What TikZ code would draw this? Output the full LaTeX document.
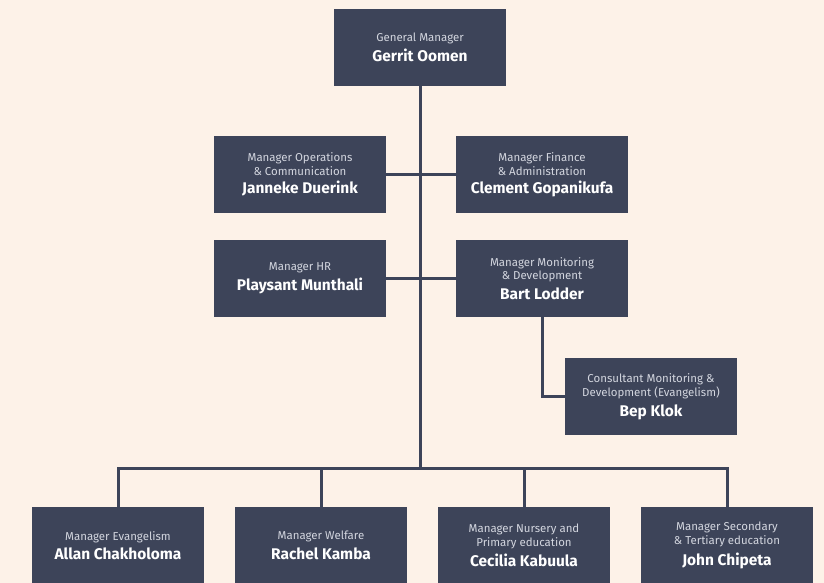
\documentclass[tikz,border=0pt]{standalone}
\usepackage{fontspec}
\setmainfont{Fira Sans}
\usetikzlibrary{calc}
\definecolor{paper}{HTML}{FDF2E8}
\definecolor{slate}{HTML}{3D4459}
\definecolor{muted}{HTML}{D3D6DF}
\def\who#1#2{#1\\[4.5pt]\textcolor{white}{\fontsize{15.5}{17}\selectfont\bfseries #2}}

\begin{document}
\begin{tikzpicture}[x=1bp, y=-1bp,
		post/.style={fill=slate, text=muted, minimum width=172bp, minimum height=77bp, inner sep=0pt, align=center, font=\fontsize{11.5}{14}\selectfont},
		link/.style={draw=slate, line width=3bp}]
		%%%%% START %%%%%
		
		\fill[paper] (0, 0) rectangle (824, 583);
		\useasboundingbox (0, 0) rectangle (824, 583);
		
		\node[post] (gm) at (420, 47.5) {\who{General Manager}{Gerrit Oomen}};
		
		\node[post] (ops) at (300, 174.5) {\who{Manager Operations\\\& Communication}{Janneke Duerink}};
		\node[post] (fin) at (542, 174.5) {\who{Manager Finance\\\& Administration}{Clement Gopanikufa}};
		\node[post] (hr) at (300, 278.5) {\who{Manager HR}{Playsant Munthali}};
		\node[post] (mon) at (542, 278.5) {\who{Manager Monitoring\\\& Development}{Bart Lodder}};
		\node[post] (cons) at (651, 396.5) {\who{Consultant Monitoring \&\\Development (Evangelism)}{Bep Klok}};
		
		\node[post] (evan) at (118, 545.5) {\who{Manager Evangelism}{Allan Chakholoma}};
		\node[post] (welf) at (321, 545.5) {\who{Manager Welfare}{Rachel Kamba}};
		\node[post] (nurs) at (524, 545.5) {\who{Manager Nursery and\\Primary education}{Cecilia Kabuula}};
		\node[post] (sec) at (727, 545.5) {\who{Manager Secondary\\\& Tertiary education}{John Chipeta}};
		
		\coordinate (bus) at (420, 468);
		
		\draw[link] (gm) -- (bus);
		\draw[link] (ops) -- (fin);
		\draw[link] (hr) -- (mon);
		\draw[link] (mon.south) |- (cons.west);
		
		\draw[link] (evan.north) |- (bus) -| (sec.north);
		\draw[link] (welf.north) -- (welf.north |- bus);
		\draw[link] (nurs.north) -- (nurs.north |- bus);
		
		%%%%% END %%%%%
	\end{tikzpicture}
\end{document}
